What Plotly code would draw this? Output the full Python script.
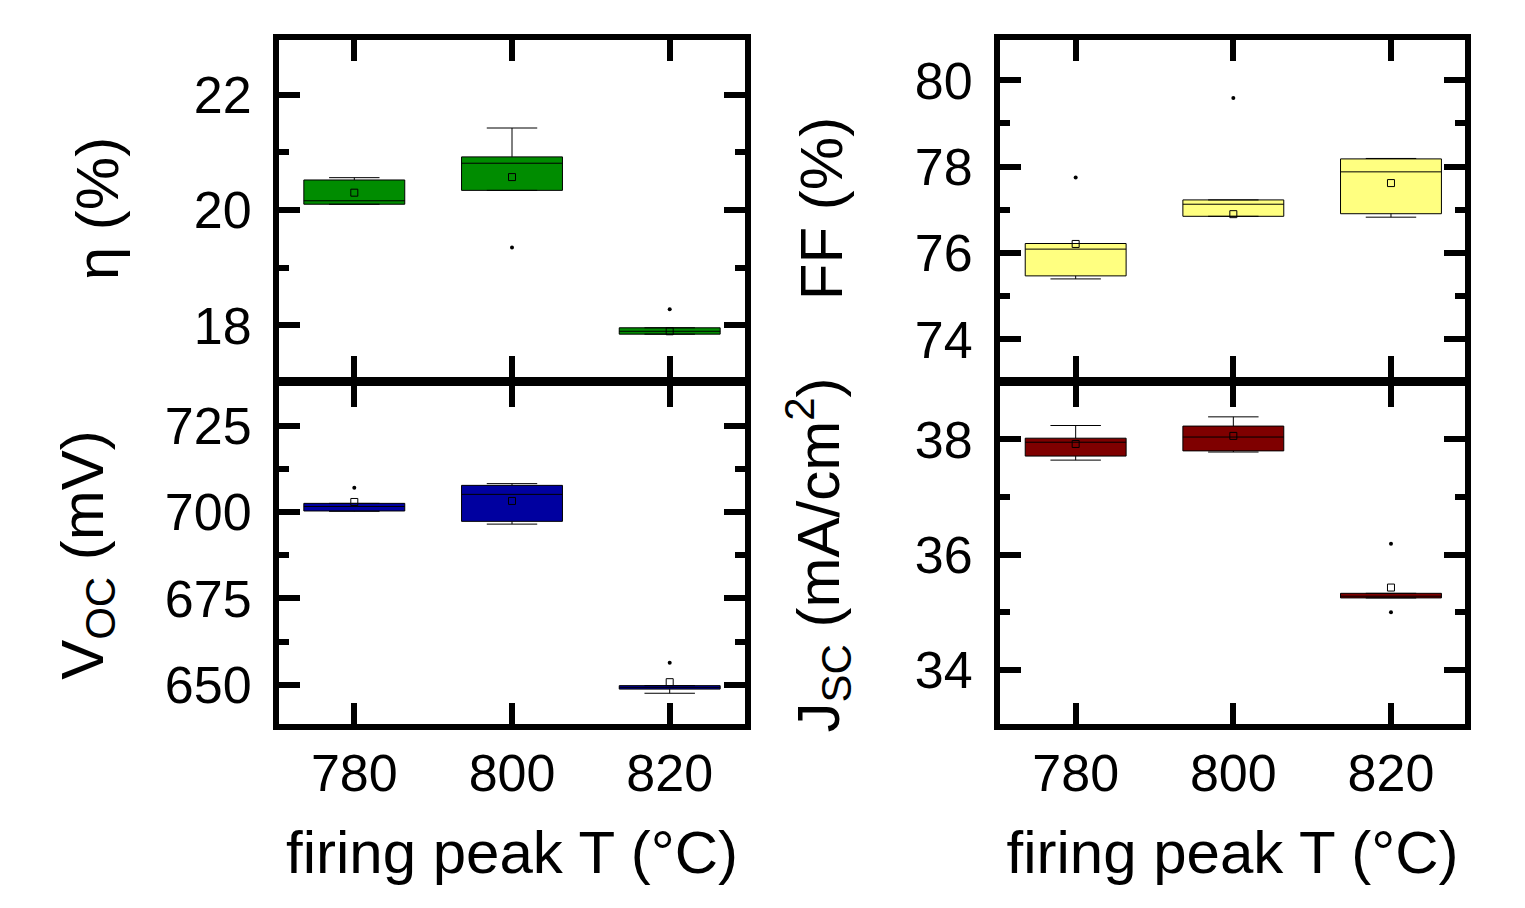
import plotly.graph_objects as go

temps = [780, 800, 820]

# efficiency eta (%)
eta_q1 = [20.10, 20.34, 17.85]
eta_median = [20.16, 20.81, 17.90]
eta_q3 = [20.52, 20.92, 17.96]
eta_low = [20.10, 20.34, 17.85]
eta_high = [20.56, 21.42, 17.96]
eta_mean = [20.30, 20.57, 17.90]
eta_out_x = [800, 820, 820]
eta_out_y = [19.35, 18.28, 17.42]

# open-circuit voltage (mV)
voc_q1 = [700.3, 697.3, 648.8]
voc_median = [701.6, 705.1, 649.3]
voc_q3 = [702.5, 707.7, 649.8]
voc_low = [700.2, 696.5, 647.6]
voc_high = [702.5, 708.2, 649.8]
voc_mean = [702.9, 703.2, 650.8]
voc_out_x = [780, 820]
voc_out_y = [707.0, 656.4]

# fill factor (%)
ff_q1 = [75.47, 76.85, 76.91]
ff_median = [76.09, 77.13, 77.88]
ff_q3 = [76.22, 77.23, 78.18]
ff_low = [75.40, 76.85, 76.83]
ff_high = [76.22, 77.23, 78.19]
ff_mean = [76.21, 76.90, 77.62]
ff_out_x = [780, 800, 800]
ff_out_y = [77.75, 79.59, 73.54]

# short-circuit current density (mA/cm2)
jsc_q1 = [37.71, 37.80, 35.25]
jsc_median = [37.95, 38.04, 35.28]
jsc_q3 = [38.02, 38.23, 35.33]
jsc_low = [37.64, 37.78, 35.25]
jsc_high = [38.24, 38.39, 35.33]
jsc_mean = [37.92, 38.06, 35.43]
jsc_out_x = [820, 820]
jsc_out_y = [36.19, 35.00]

W, H = 1525, 908
FONT = "Liberation Sans, Arial, sans-serif"
TICK_SIZE = 52
TITLE_SIZE = 60

fig = go.Figure()

panels = [
    ("x", "y", eta_q1, eta_median, eta_q3, eta_low, eta_high, eta_mean, eta_out_x, eta_out_y, "#008C00"),
    ("x2", "y2", voc_q1, voc_median, voc_q3, voc_low, voc_high, voc_mean, voc_out_x, voc_out_y, "#0000A0"),
    ("x3", "y3", ff_q1, ff_median, ff_q3, ff_low, ff_high, ff_mean, ff_out_x, ff_out_y, "#FFFF80"),
    ("x4", "y4", jsc_q1, jsc_median, jsc_q3, jsc_low, jsc_high, jsc_mean, jsc_out_x, jsc_out_y, "#7F0000"),
]

for xa, ya, q1, med, q3, lo, hi, mn, ox, oy, col in panels:
    fig.add_trace(go.Box(
        x=temps, q1=q1, median=med, q3=q3, lowerfence=lo, upperfence=hi,
        width=12.8, whiskerwidth=0.5, fillcolor=col,
        line=dict(color="black", width=1), boxpoints=False,
        xaxis=xa, yaxis=ya, showlegend=False, hoverinfo="skip",
    ))
    fig.add_trace(go.Scatter(
        x=temps, y=mn, mode="markers", xaxis=xa, yaxis=ya, showlegend=False,
        marker=dict(symbol="square-open", size=7, color="black", line=dict(width=1, color="black")),
    ))
    fig.add_trace(go.Scatter(
        x=ox, y=oy, mode="markers", xaxis=xa, yaxis=ya, showlegend=False,
        marker=dict(symbol="circle", size=4, color="black"),
    ))


def xd(a, b):
    return [a / W, b / W]


def yd(top, bottom):
    return [1 - bottom / H, 1 - top / H]


common = dict(
    showline=True, linewidth=6, linecolor="black", mirror="allticks",
    ticks="inside", tickwidth=6, tickcolor="black", showgrid=False, zeroline=False,
    tickfont=dict(family=FONT, size=TICK_SIZE, color="black"),
    automargin=False,
)

xcommon = dict(common, tickvals=temps, ticklen=21)
minor_y = dict(ticks="inside", ticklen=10, tickwidth=6, tickcolor="black")

left_x = xd(279, 745)
right_x = xd(1000, 1465)
top_y = yd(40, 377)
bot_y = yd(386, 724)

xtitle = dict(text="firing peak T (°C)", font=dict(family=FONT, size=TITLE_SIZE, color="black"), standoff=32)


def ytitle(text, standoff):
    return dict(text=text, font=dict(family=FONT, size=TITLE_SIZE, color="black"), standoff=standoff)


fig.update_layout(
    width=W, height=H, margin=dict(l=0, r=0, t=0, b=0),
    paper_bgcolor="white", plot_bgcolor="white", showlegend=False,
    xaxis=dict(xcommon, domain=left_x, anchor="y", range=[770.45, 829.55], showticklabels=False),
    xaxis2=dict(xcommon, domain=left_x, anchor="y2", range=[770.45, 829.55], title=xtitle, ticklabelstandoff=-1),
    xaxis3=dict(xcommon, domain=right_x, anchor="y3", range=[770.40, 829.39], showticklabels=False),
    xaxis4=dict(xcommon, domain=right_x, anchor="y4", range=[770.40, 829.39], title=xtitle, ticklabelstandoff=-1),
    yaxis=dict(common, domain=top_y, anchor="x", range=[17.108, 22.944], dtick=2, tick0=0, ticklen=21,
               minor=dict(minor_y, dtick=1), ticklabelstandoff=11,
               title=ytitle("η (%)", 58)),
    yaxis2=dict(common, domain=bot_y, anchor="x2", range=[638.71, 736.43], dtick=25, tick0=0, ticklen=21,
                minor=dict(minor_y, dtick=12.5), ticklabelstandoff=11,
                title=ytitle("V<sub>OC</sub> (mV)", 44)),
    yaxis3=dict(common, domain=top_y, anchor="x3", range=[73.128, 80.934], dtick=2, tick0=0, ticklen=21,
                minor=dict(minor_y, dtick=1), ticklabelstandoff=11,
                title=ytitle("FF (%)", 55)),
    yaxis4=dict(common, domain=bot_y, anchor="x4", range=[33.064, 38.925], dtick=2, tick0=0, ticklen=21,
                minor=dict(minor_y, dtick=1), ticklabelstandoff=11,
                title=ytitle("J<sub>SC</sub> (mA/cm<sup>2</sup>)", 58)),
)

fig.write_html(
    "out.html",
    config={"displayModeBar": False},
    post_script="document.body.style.margin='0';document.body.style.overflow='hidden';",
)
